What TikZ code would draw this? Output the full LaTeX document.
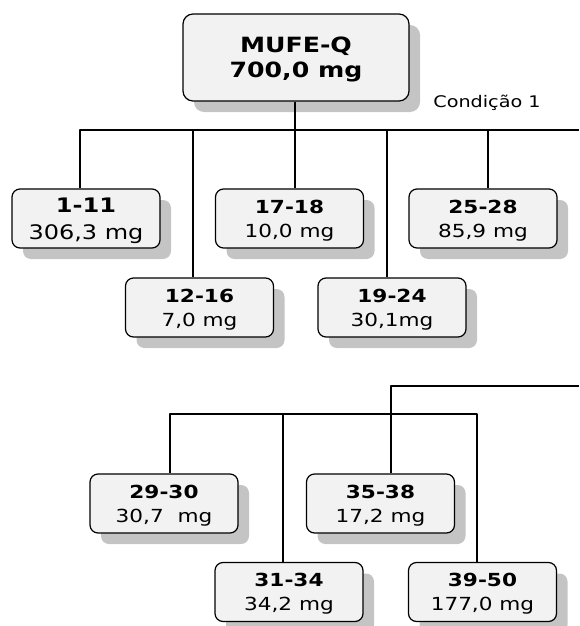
\documentclass[tikz,border=0pt]{standalone}
\usepackage{fontspec}
\setmainfont{DejaVu Sans}[FakeStretch=1.2]
\usetikzlibrary{shadows}
\definecolor{boxfill}{HTML}{F2F2F2}
\definecolor{shadowgray}{HTML}{C4C4C4}
\begin{document}
\begin{tikzpicture}[x=1pt, y=-1pt, line join=round, line width=1.2pt,
	fracbox/.style={draw, rounded corners=8pt, fill=boxfill, align=center,
		minimum width=148pt, minimum height=59pt, inner sep=0pt, text depth=0pt,
		font=\fontsize{18}{24}\selectfont,
		drop shadow={shadow xshift=11pt, shadow yshift=-11pt, fill=shadowgray, opacity=1}}]
	\useasboundingbox (0,0) rectangle (579,626);
	%\draw[color=gray!50,dashed] (0,0) grid[step=50] (579,626);
	\node[fracbox, minimum width=226pt, minimum height=87pt, rounded corners=10pt,
		font=\fontsize{21}{25}\selectfont\bfseries] (mufe) at (296,57.5) {MUFE-Q\\700,0 mg};
	\node[font=\fontsize{16}{18}\selectfont] (cond) at (487,103) {Condição 1};
	% primeira condicao
	\node[fracbox, font=\fontsize{20}{27}\selectfont] (f1) at (86,218.5) {\textbf{1-11}\\306,3 mg};
	\node[fracbox] (f2) at (199.5,307.5) {\textbf{12-16}\\7,0 mg};
	\node[fracbox] (f3) at (289.5,218.5) {\textbf{17-18}\\10,0 mg};
	\node[fracbox] (f4) at (392,307.5) {\textbf{19-24}\\30,1mg};
	\node[fracbox] (f5) at (483,218.5) {\textbf{25-28}\\85,9 mg};
	\coordinate (b1) at (80,130);  \coordinate (b2) at (193,130);
	\coordinate (b3) at (295,130); \coordinate (b4) at (387,130);
	\coordinate (b5) at (488,130); \coordinate (bR) at (579,130);
	\draw (mufe.south -| b3) -- (b3);
	\draw (b1 |- f1.north) -- (b1) -- (bR);
	\foreach \i in {2,3,4,5} \draw (b\i) -- (b\i |- f\i.north);
	% segunda parte
	\node[fracbox] (f6) at (164,503.5) {\textbf{29-30}\\30,7~ mg};
	\node[fracbox] (f7) at (289,592) {\textbf{31-34}\\34,2 mg};
	\node[fracbox] (f8) at (380.5,503.5) {\textbf{35-38}\\17,2 mg};
	\node[fracbox] (f9) at (482.5,592) {\textbf{39-50}\\177,0 mg};
	\coordinate (c8) at (391,386); \coordinate (cR) at (579,386);
	\draw (cR) -- (c8) -- (c8 |- f8.north);
	\coordinate (c6) at (170,414); \coordinate (c7) at (283,414); \coordinate (c9) at (477,414);
	\draw (c6 |- f6.north) -- (c6) -- (c9) -- (c9 |- f9.north);
	\draw (c7) -- (c7 |- f7.north);
\end{tikzpicture}
\end{document}
